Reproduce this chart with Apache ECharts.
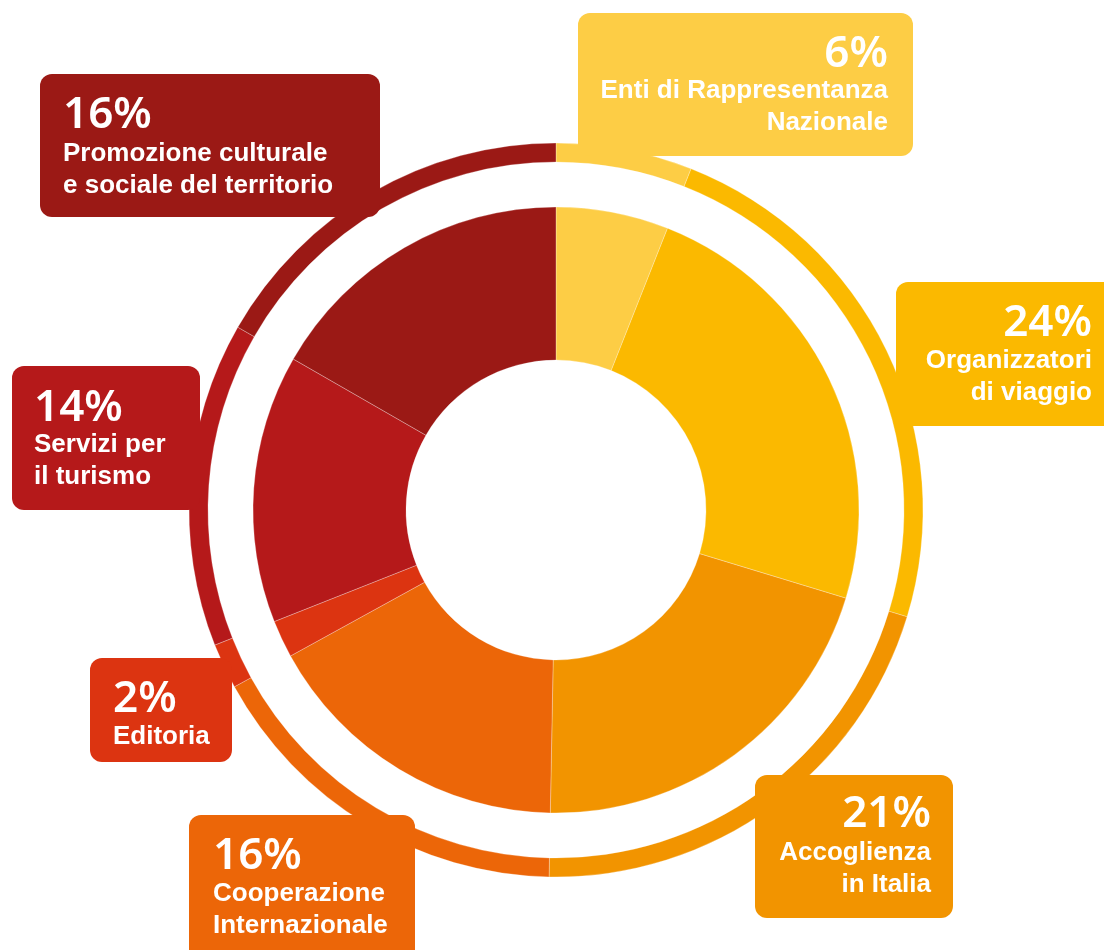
<!DOCTYPE html>
<html>
<head>
<meta charset="utf-8">
<script src="https://cdn.jsdelivr.net/npm/echarts@6/dist/echarts.min.js"></script>
<style>
html,body{margin:0;padding:0;background:#fff;}
#chart{width:1104px;height:950px;}
</style>
</head>
<body>
<div id="chart"></div>
<script>
// Data
var categories = ['Enti di Rappresentanza\nNazionale', 'Organizzatori\ndi viaggio', 'Accoglienza\nin Italia', 'Cooperazione\nInternazionale', 'Editoria', 'Servizi per\nil turismo', 'Promozione culturale\ne sociale del territorio'];
var percentLabels = ['6%', '24%', '21%', '16%', '2%', '14%', '16%'];
var values = [6.0, 23.7, 20.6, 16.7, 2.0, 14.3, 16.7];
var colors = ['#FDCD45', '#FBB900', '#F29400', '#EC6608', '#DC3411', '#B5191A', '#9B1915'];

// Layout of label boxes: [x, y, w, h], alignment, text x, percent y, first line y
var boxLayout = [
  {rect: [578, 13, 335, 143], align: 'right', tx: 888, py: 54, ly: 91},
  {rect: [896, 282, 230, 144], align: 'right', tx: 1092, py: 323, ly: 361},
  {rect: [755, 775, 198, 143], align: 'right', tx: 931, py: 814, ly: 853},
  {rect: [189, 815, 226, 170], align: 'left', tx: 213, py: 856, ly: 894},
  {rect: [90, 658, 142, 104], align: 'left', tx: 113, py: 699, ly: 737},
  {rect: [12, 366, 188, 144], align: 'left', tx: 34, py: 408, ly: 445},
  {rect: [40, 74, 340, 143], align: 'left', tx: 63, py: 115, ly: 154}
];
var lineGap = 31.5;

var chart = echarts.init(document.getElementById('chart'), null, {renderer: 'canvas'});

var pieData = categories.map(function (c, i) {
  return {name: c, value: values[i], itemStyle: {color: colors[i]}};
});

var graphics = [];
boxLayout.forEach(function (b, i) {
  graphics.push({
    type: 'rect', z: 100,
    shape: {x: b.rect[0], y: b.rect[1], width: b.rect[2], height: b.rect[3], r: 12},
    style: {fill: colors[i]}
  });
  graphics.push({
    type: 'text', z: 101,
    style: {
      text: percentLabels[i], x: b.tx, y: b.py,
      align: b.align, verticalAlign: 'middle',
      font: '600 44px "Noto Sans"', fill: '#fff'
    }
  });
  categories[i].split('\n').forEach(function (line, k) {
    graphics.push({
      type: 'text', z: 101,
      style: {
        text: line, x: b.tx, y: b.ly + k * lineGap,
        align: b.align, verticalAlign: 'middle',
        font: 'bold 26px "Liberation Sans"', fill: '#fff'
      }
    });
  });
});

chart.setOption({
  animation: false,
  backgroundColor: '#fff',
  series: [
    {
      type: 'pie',
      center: [556, 510],
      radius: [150, 303],
      startAngle: 90,
      clockwise: true,
      label: {show: false},
      labelLine: {show: false},
      emphasis: {disabled: true},
      itemStyle: {borderColor: 'rgba(255,255,255,0.35)', borderWidth: 0.8},
      data: pieData
    },
    {
      type: 'pie',
      center: [556, 510],
      radius: [348, 367],
      startAngle: 90,
      clockwise: true,
      label: {show: false},
      labelLine: {show: false},
      emphasis: {disabled: true},
      itemStyle: {borderColor: 'rgba(255,255,255,0.35)', borderWidth: 0.8},
      data: pieData
    }
  ],
  graphic: graphics
});
</script>
</body>
</html>
